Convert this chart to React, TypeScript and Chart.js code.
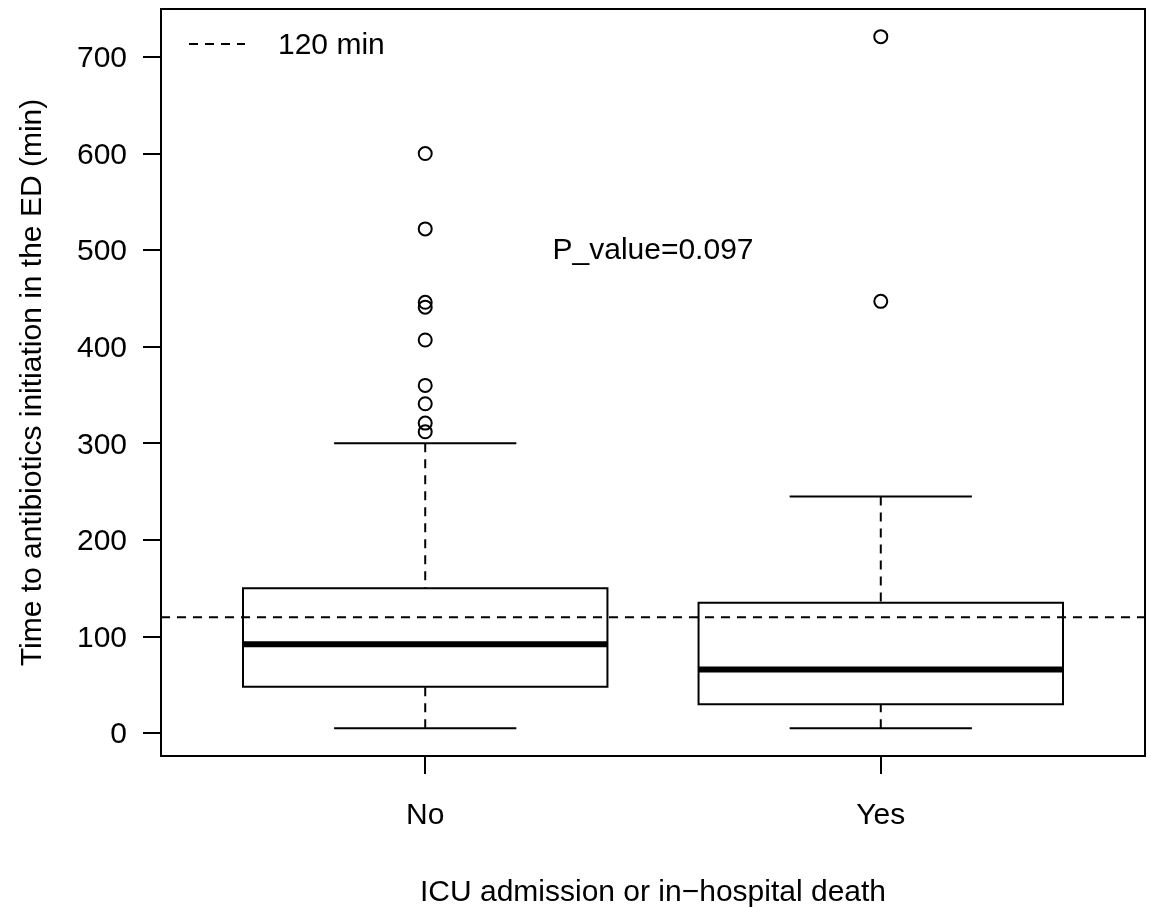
import React, { useEffect, useRef } from "react";
import { Chart, registerables } from "chart.js";

Chart.register(...registerables);

// ---- data ----
const categories = ["No", "Yes"];
const lowerWhisker = [5, 5];
const q1Values = [48, 30];
const medianValues = [92, 66];
const q3Values = [150, 135];
const upperWhisker = [300, 245];
const outliersNo = [600, 522, 446, 441, 407, 360, 341, 321, 312];
const outliersYes = [721, 447];
const yTicks = [0, 100, 200, 300, 400, 500, 600, 700];
const referenceValue = 120;
const pValueLabel = "P_value=0.097";
const pValuePosition = [1.5, 500];
const legendLabel = "120 min";
const xTitle = "ICU admission or in\u2212hospital death";
const yTitle = "Time to antibiotics initiation in the ED (min)";

// ---- axis limits (R style 4% extension) ----
const X_MIN = 0.42;
const X_MAX = 2.58;
const Y_MIN = -23.6;
const Y_MAX = 749.6;

const FONT = "'Liberation Sans', Arial, Helvetica, sans-serif";
const DASH = [9, 7];

const boxPlugin = {
  id: "rBoxes",
  beforeDatasetsDraw(chart: any) {
    const { ctx, scales } = chart;
    const x = scales.x;
    const y = scales.y;
    ctx.save();
    ctx.strokeStyle = "#000";
    categories.forEach((_c, i) => {
      const pos = i + 1;
      const xc = x.getPixelForValue(pos);
      const xl = x.getPixelForValue(pos - 0.4);
      const xr = x.getPixelForValue(pos + 0.4);
      const cl = x.getPixelForValue(pos - 0.2);
      const cr = x.getPixelForValue(pos + 0.2);
      const yLow = y.getPixelForValue(lowerWhisker[i]);
      const yQ1 = y.getPixelForValue(q1Values[i]);
      const yMed = y.getPixelForValue(medianValues[i]);
      const yQ3 = y.getPixelForValue(q3Values[i]);
      const yUp = y.getPixelForValue(upperWhisker[i]);

      // whiskers (dashed), drawn from whisker end to box
      ctx.lineWidth = 2;
      ctx.setLineDash(DASH);
      ctx.beginPath();
      ctx.moveTo(xc, yLow);
      ctx.lineTo(xc, yQ1);
      ctx.moveTo(xc, yUp);
      ctx.lineTo(xc, yQ3);
      ctx.stroke();
      ctx.setLineDash([]);

      // staples
      ctx.beginPath();
      ctx.moveTo(cl, yLow);
      ctx.lineTo(cr, yLow);
      ctx.moveTo(cl, yUp);
      ctx.lineTo(cr, yUp);
      ctx.stroke();

      // box
      ctx.beginPath();
      ctx.rect(xl, yQ3, xr - xl, yQ1 - yQ3);
      ctx.stroke();

      // median
      ctx.lineWidth = 6;
      ctx.beginPath();
      ctx.moveTo(xl, yMed);
      ctx.lineTo(xr, yMed);
      ctx.stroke();
    });
    ctx.restore();
  },
  afterDatasetsDraw(chart: any) {
    const { ctx, scales, chartArea } = chart;
    const x = scales.x;
    const y = scales.y;
    ctx.save();
    // P-value annotation
    ctx.fillStyle = "#000";
    ctx.font = `30px ${FONT}`;
    ctx.textAlign = "center";
    ctx.textBaseline = "middle";
    ctx.fillText(
      pValueLabel,
      x.getPixelForValue(pValuePosition[0]),
      y.getPixelForValue(pValuePosition[1]) + 1
    );

    // legend (no box)
    const ly = chartArea.top + 35;
    ctx.strokeStyle = "#000";
    ctx.lineWidth = 2;
    ctx.setLineDash(DASH);
    ctx.beginPath();
    ctx.moveTo(chartArea.left + 28, ly);
    ctx.lineTo(chartArea.left + 84, ly);
    ctx.stroke();
    ctx.setLineDash([]);
    ctx.textAlign = "left";
    ctx.fillText(legendLabel, chartArea.left + 117, ly + 2);

    // frame
    ctx.lineWidth = 2;
    ctx.strokeRect(
      chartArea.left,
      chartArea.top,
      chartArea.right - chartArea.left,
      chartArea.bottom - chartArea.top
    );
    ctx.restore();
  },
};

export default function App() {
  const ref = useRef<HTMLCanvasElement>(null);

  useEffect(() => {
    const canvas = ref.current;
    if (!canvas) return;
    Chart.defaults.font.family = FONT;
    Chart.defaults.font.size = 30;
    Chart.defaults.color = "#000";

    const outlierPoints = [
      ...outliersNo.map((v) => ({ x: 1, y: v })),
      ...outliersYes.map((v) => ({ x: 2, y: v })),
    ];

    const chart = new Chart(canvas, {
      type: "scatter",
      data: {
        datasets: [
          {
            label: "outliers",
            data: outlierPoints,
            pointStyle: "circle",
            pointRadius: 6.5,
            pointBorderWidth: 2,
            pointBackgroundColor: "rgba(0,0,0,0)",
            pointBorderColor: "#000",
            showLine: false,
          },
          {
            label: legendLabel,
            data: [
              { x: X_MIN, y: referenceValue },
              { x: X_MAX, y: referenceValue },
            ],
            showLine: true,
            borderColor: "#000",
            borderWidth: 2,
            borderDash: DASH,
            pointRadius: 0,
            fill: false,
          },
        ],
      },
      options: {
        responsive: false,
        animation: false,
        devicePixelRatio: 1,
        layout: {
          autoPadding: false,
          padding: { top: 9, right: 6, left: 0, bottom: 0 },
        },
        plugins: {
          legend: { display: false },
          tooltip: { enabled: false },
        },
        scales: {
          x: {
            type: "linear",
            position: "bottom",
            min: X_MIN,
            max: X_MAX,
            afterBuildTicks: (s: any) => {
              s.ticks = categories.map((_c, i) => ({ value: i + 1 }));
            },
            afterFit: (s: any) => {
              s.height = 151;
              s.paddingLeft = 0;
              s.paddingRight = 0;
            },
            ticks: {
              autoSkip: false,
              maxRotation: 0,
              padding: 24,
              color: "#000",
              font: { size: 30, family: FONT },
              callback: (v: any) => categories[Math.round(Number(v)) - 1] ?? "",
            },
            grid: {
              drawOnChartArea: false,
              drawTicks: true,
              tickLength: 18,
              color: "#000",
              lineWidth: 2,
            },
            border: { display: true, color: "#000", width: 2 },
            title: {
              display: true,
              text: xTitle,
              color: "#000",
              font: { size: 30, family: FONT },
              padding: { top: 0, bottom: -4 },
            },
          },
          y: {
            type: "linear",
            position: "left",
            min: Y_MIN,
            max: Y_MAX,
            afterBuildTicks: (s: any) => {
              s.ticks = yTicks.map((v) => ({ value: v }));
            },
            afterFit: (s: any) => {
              s.width = 161;
              s.paddingTop = 0;
              s.paddingBottom = 0;
            },
            ticks: {
              autoSkip: false,
              padding: 16,
              labelOffset: 2,
              color: "#000",
              font: { size: 30, family: FONT },
              callback: (v: any) => String(v),
            },
            grid: {
              drawOnChartArea: false,
              drawTicks: true,
              tickLength: 18,
              color: "#000",
              lineWidth: 2,
            },
            border: { display: true, color: "#000", width: 2 },
            title: {
              display: true,
              text: yTitle,
              color: "#000",
              font: { size: 30, family: FONT },
              padding: { top: 15, bottom: 0 },
            },
          },
        },
      },
      plugins: [boxPlugin],
    } as any);

    return () => chart.destroy();
  }, []);

  return (
    <canvas
      ref={ref}
      width={1151}
      height={907}
      style={{ position: "absolute", left: 0, top: 0, width: 1151, height: 907 }}
    />
  );
}
